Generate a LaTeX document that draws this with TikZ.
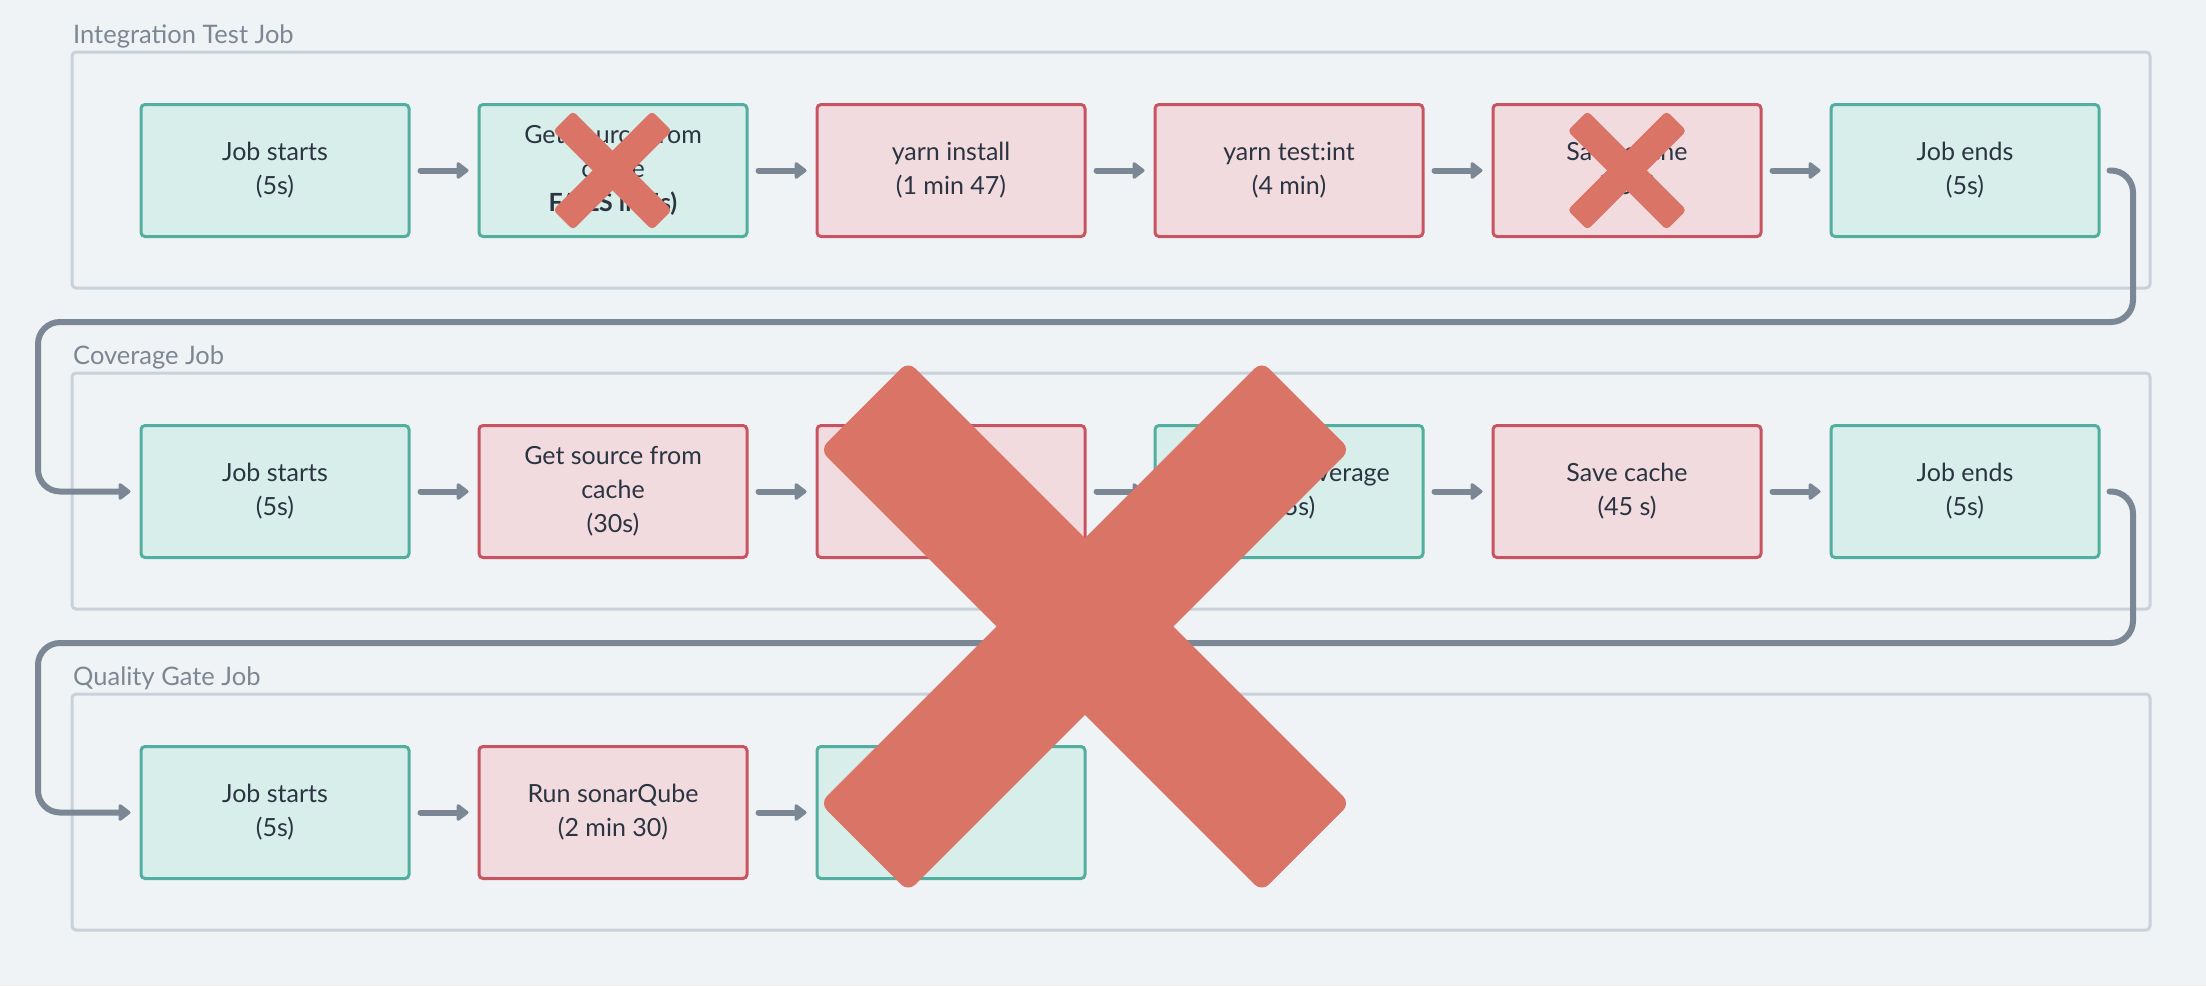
\documentclass[tikz,border=0pt]{standalone}
\usepackage{fontspec}
\setmainfont{Lato}
\usetikzlibrary{arrows.meta}
\definecolor{bgc}{HTML}{EFF3F6}
\definecolor{framec}{HTML}{C9D1DB}
\definecolor{labelc}{HTML}{7D8794}
\definecolor{txtc}{HTML}{2B3441}
\definecolor{gfill}{HTML}{D8EEEA}
\definecolor{gline}{HTML}{52AE9F}
\definecolor{rfill}{HTML}{F2DBDF}
\definecolor{rline}{HTML}{C95461}
\definecolor{arrowc}{HTML}{7C8795}
\definecolor{xred}{HTML}{D97466}
\tikzset{
  stepbox/.style={rectangle, rounded corners=4pt, line width=3pt, minimum width=268pt, minimum height=132pt,
    align=center, inner sep=0pt, text=txtc, font=\fontsize{25}{34}\selectfont},
  okbox/.style={stepbox, fill=gfill, draw=gline},
  failbox/.style={stepbox, fill=rfill, draw=rline},
  jobframe/.style={rectangle, draw=framec, line width=3pt, rounded corners=4pt, minimum width=2078pt, minimum height=236pt, inner sep=0pt},
  joblabel/.style={anchor=base west, inner sep=0pt, text=labelc, font=\fontsize{25.5}{30}\selectfont},
  flow/.style={draw=arrowc, line width=6pt, line cap=round, -{Triangle[length=13pt,width=19pt,round]}},
  xbar/.style={rectangle, fill=xred, draw=none, inner sep=0pt},
}
\begin{document}
\begin{tikzpicture}[x=1pt,y=-1pt]
\fill[bgc] (0,0) rectangle (2206,986);
\useasboundingbox (0,0) rectangle (2206,986);

% frames
\node[jobframe] (f1) at (1111,170) {};
\node[jobframe] (f2) at (1111,491) {};
\node[jobframe] (f3) at (1111,812) {};
\node[joblabel] (l1) at (73,43) {Integration Test Job};
\node[joblabel] (l2) at (73,364) {Coverage Job};
\node[joblabel] (l3) at (73,685) {Quality Gate Job};

% row 1
\node[okbox]   (a1) at (275,170.5) {Job starts\\(5s)};
\node[okbox]   (a2) at (613,170.5) {Get source from\\cache\\\textbf{FAILS in 5s)}};
\node[failbox] (a3) at (951,170.5) {yarn install\\(1 min 47)};
\node[failbox] (a4) at (1289,170.5) {yarn test:int\\(4 min)};
\node[failbox] (a5) at (1627,170.5) {Save cache\\(45 s)};
\node[okbox]   (a6) at (1965,170.5) {Job ends\\(5s)};

% row 2
\node[okbox]   (b1) at (275,491.5) {Job starts\\(5s)};
\node[failbox] (b2) at (613,491.5) {Get source from\\cache\\(30s)};
\node[failbox] (b3) at (951,491.5) {};
\node[okbox]   (b4) at (1289,491.5) {yarn test:coverage\\(15s)};
\node[failbox] (b5) at (1627,491.5) {Save cache\\(45 s)};
\node[okbox]   (b6) at (1965,491.5) {Job ends\\(5s)};

% row 3
\node[okbox]   (c1) at (275,812.5) {Job starts\\(5s)};
\node[failbox] (c2) at (613,812.5) {Run sonarQube\\(2 min 30)};
\node[okbox]   (c3) at (951,812.5) {};

% arrows within rows
\foreach \r in {a,b}{
  \foreach \i/\j in {1/2,2/3,3/4,4/5,5/6}{
    \draw[flow] ([xshift=10pt]\r\i.east) -- ([xshift=-9pt]\r\j.west);
  }
}
\foreach \i/\j in {1/2,2/3}{
  \draw[flow] ([xshift=10pt]c\i.east) -- ([xshift=-9pt]c\j.west);
}

% connectors between jobs
\coordinate (t1r) at (2133,322);
\coordinate (t1l) at (38,322);
\coordinate (t2r) at (2133,643);
\coordinate (t2l) at (38,643);
\draw[flow, rounded corners=22pt] ([xshift=9pt]a6.east) -| (t1r) -- (t1l) |- ([xshift=-9pt]b1.west);
\draw[flow, rounded corners=22pt] ([xshift=9pt]b6.east) -| (t2r) -- (t2l) |- ([xshift=-9pt]c1.west);

% small crosses
\node[xbar, rounded corners=4pt, minimum width=140pt, minimum height=28pt, rotate=45]  (sx1a) at (612.5,170.5) {};
\node[xbar, rounded corners=4pt, minimum width=140pt, minimum height=28pt, rotate=-45] (sx1b) at (612.5,170.5) {};
\node[xbar, rounded corners=4pt, minimum width=140pt, minimum height=28pt, rotate=45]  (sx2a) at (1627,170.5) {};
\node[xbar, rounded corners=4pt, minimum width=140pt, minimum height=28pt, rotate=-45] (sx2b) at (1627,170.5) {};

% big cross
\node[xbar, rounded corners=10pt, minimum width=625pt, minimum height=125pt, rotate=45]  (bx1) at (1085,626.5) {};
\node[xbar, rounded corners=10pt, minimum width=625pt, minimum height=125pt, rotate=-45] (bx2) at (1085,626.5) {};
\end{tikzpicture}
\end{document}
